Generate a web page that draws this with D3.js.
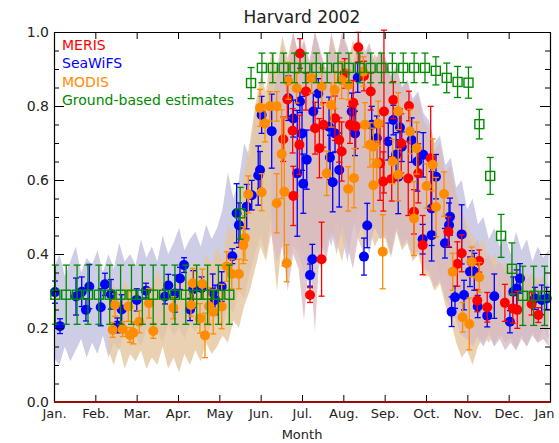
<!DOCTYPE html>
<html>
<head>
<meta charset="utf-8">
<script src="https://cdn.jsdelivr.net/npm/d3@7"></script>
<style>
  body { margin: 0; background: #fff; }
  svg text { font-family: "DejaVu Sans", sans-serif; }
</style>
</head>
<body>
<svg id="chart" width="559" height="443"></svg>
<script>
// ---- Month axis ----
const monthLabels = ["Jan.", "Feb.", "Mar.", "Apr.", "May", "Jun.", "Jul.", "Aug.", "Sep.", "Oct.", "Nov.", "Dec.", "Jan"];
const yTickValues = [0, 0.2, 0.4, 0.6, 0.8, 1.0];

// ---- SeaWiFS retrievals (day of year, value, error) ----
const seawifsDay = [0.7,4.4,16.2,20.4,23.5,26,34.4,37.5,41.9,46.6,49.8,60.9,67.7,81.7,84.1,89,92.7,95.7,100.1,102.5,108.6,116.8,118.5,123.4,131.2,134.4,136.1,141.8,145.5,150.3,151.6,152.8,160.2,172.4,176.1,179,181,182.5,183.4,186,188.4,190.1,190.8,194.5,202.4,203.1,205.1,206.8,209.9,219.1,221.5,223.5,228.1,230.5,233.8,237.5,246,249.7,251.7,253.3,254.6,255.9,263.2,267.3,271.3,271.7,277.9,277.9,281.1,287.7,290.7,291.4,292.6,295.1,300,301.7,306.1,307.4,309.3,311.8,318.8,324,335.5,338,340.5,342.9,353.9,358.9,362.5];
const seawifsValue = [0.297,0.205,0.285,0.298,0.249,0.312,0.256,0.318,0.291,0.207,0.250,0.276,0.301,0.285,0.315,0.293,0.334,0.370,0.250,0.305,0.308,0.296,0.276,0.312,0.394,0.510,0.478,0.528,0.559,0.612,0.627,0.776,0.732,0.821,0.766,0.618,0.812,0.726,0.590,0.655,0.343,0.386,0.785,0.834,0.744,0.661,0.594,0.726,0.627,0.785,0.726,0.877,0.393,0.477,0.749,0.713,0.704,0.762,0.668,0.609,0.742,0.690,0.708,0.650,0.440,0.668,0.523,0.451,0.609,0.429,0.478,0.501,0.244,0.283,0.453,0.289,0.352,0.379,0.352,0.258,0.233,0.286,0.217,0.298,0.307,0.334,0.280,0.276,0.280];
const seawifsError = [0.03,0.02,0.05,0.04,0.03,0.06,0.05,0.03,0.04,0.02,0.04,0.03,0.02,0.02,0.03,0.05,0.03,0.02,0.03,0.05,0.03,0.05,0.04,0.04,0.02,0.08,0.06,0.06,0.04,0.08,0.05,0.05,0.10,0.06,0.05,0.17,0.03,0.10,0.08,0.08,0.03,0.04,0.05,0.04,0.08,0.06,0.08,0.05,0.10,0.05,0.06,0.04,0.05,0.06,0.05,0.06,0.05,0.04,0.06,0.10,0.05,0.04,0.06,0.08,0.04,0.06,0.10,0.07,0.06,0.04,0.06,0.05,0.04,0.03,0.08,0.04,0.04,0.03,0.05,0.03,0.03,0.06,0.03,0.04,0.05,0.04,0.03,0.04,0.03];

// ---- MERIS retrievals ----
const merisDay = [168.7,171.7,175.6,176.1,180.6,181,185.4,188.4,192.1,195.3,196.9,198.2,206.8,209.9,211.7,213.9,217.8,220.2,222,223.9,228.1,233.1,239.9,242.3,242.8,248.5,249.7,255.5,260.7,261.2,264.9,268.1,271.3,277.2,290.2,296.8,300,311.5,312.9,318.8,331.8,337.6,340.9,351.5,356.4];
const merisValue = [0.710,0.818,0.733,0.557,0.695,0.942,0.839,0.289,0.740,0.686,0.386,0.749,0.767,0.708,0.677,0.888,0.749,0.809,0.745,0.959,0.881,0.839,0.645,0.596,0.785,0.603,0.816,0.699,0.604,0.800,0.514,0.618,0.424,0.659,0.460,0.373,0.402,0.274,0.381,0.256,0.268,0.253,0.249,0.265,0.235];
const merisError = [0.06,0.05,0.06,0.08,0.08,0.04,0.05,0.02,0.07,0.08,0.10,0.06,0.06,0.06,0.08,0.04,0.05,0.06,0.06,0.04,0.04,0.05,0.10,0.08,0.22,0.06,0.05,0.08,0.10,0.04,0.06,0.08,0.08,0.14,0.04,0.06,0.05,0.03,0.03,0.04,0.05,0.04,0.05,0.03,0.02];

// ---- MODIS retrievals ----
const modisDay = [43.2,44.9,50.6,54.7,55.9,58.4,62.8,69.9,73.1,87.8,100.8,102.1,107.4,109.1,111.1,114.1,117.2,123.4,127.1,130.8,136.1,139.3,140.5,143,151.6,152.8,155.3,158.9,163.9,163.9,167.5,169.5,171.2,172.4,178.6,189.6,197,200.7,204,206.5,211.7,216.5,216.5,220.8,227.6,228.8,232.5,235,235,237.5,238.6,241.9,249.2,253.3,253.3,262,264.9,266.9,274.2,278.7,281.1,287,293.4,300.7,305.6,307.4,312.9];
const modisValue = [0.195,0.262,0.197,0.258,0.181,0.187,0.217,0.267,0.192,0.255,0.262,0.321,0.226,0.319,0.180,0.259,0.244,0.258,0.366,0.346,0.346,0.424,0.443,0.561,0.795,0.567,0.753,0.799,0.799,0.537,0.670,0.568,0.375,0.868,0.848,0.875,0.853,0.618,0.803,0.843,0.870,0.857,0.576,0.605,0.893,0.749,0.695,0.586,0.690,0.645,0.753,0.406,0.650,0.614,0.786,0.731,0.496,0.686,0.584,0.641,0.527,0.562,0.352,0.229,0.211,0.379,0.337];
const modisError = [0.02,0.03,0.02,0.04,0.02,0.03,0.03,0.04,0.02,0.03,0.03,0.04,0.04,0.04,0.06,0.05,0.06,0.06,0.04,0.04,0.04,0.05,0.06,0.05,0.05,0.05,0.05,0.04,0.04,0.08,0.12,0.20,0.05,0.05,0.04,0.04,0.05,0.06,0.06,0.05,0.05,0.04,0.06,0.08,0.04,0.06,0.06,0.07,0.05,0.06,0.06,0.10,0.06,0.07,0.05,0.06,0.10,0.07,0.06,0.07,0.08,0.06,0.05,0.04,0.07,0.04,0.04];

// ---- Ground-based 8-day estimates ----
const groundValue = [0.29,0.29,0.29,0.29,0.29,0.29,0.29,0.29,0.29,0.29,0.29,0.29,0.29,0.29,0.29,0.29,0.29,0.51,0.862,0.903,0.903,0.903,0.903,0.903,0.903,0.903,0.903,0.903,0.903,0.903,0.903,0.903,0.903,0.903,0.903,0.895,0.876,0.865,0.863,0.751,0.611,0.449,0.360,0.287,0.287,0.287];
const groundError = [0.08,0.08,0.08,0.08,0.08,0.08,0.08,0.08,0.08,0.08,0.08,0.08,0.08,0.08,0.08,0.08,0.08,0.07,0.042,0.04,0.04,0.04,0.04,0.04,0.04,0.04,0.04,0.04,0.04,0.04,0.04,0.04,0.04,0.04,0.04,0.038,0.04,0.042,0.042,0.04,0.05,0.058,0.07,0.08,0.08,0.08];

// ---- Pixel spread envelopes, sampled every 4 days ----
const seawifsBandLo = [0.12,0.10,0.15,0.11,0.14,0.17,0.12,0.16, 0.13,0.18,0.12,0.16,0.14,0.19,0.15, 0.18,0.15,0.20,0.17,0.19,0.16,0.21,0.18,0.20,0.17,0.21,0.19,0.22,0.18,0.21, 0.23,0.20,0.26,0.24,0.30,0.28,0.35,0.40, 0.45,0.40,0.50,0.44,0.48,0.38,0.46,0.42, 0.40,0.30,0.45,0.36,0.48,0.42,0.50,0.44,0.38,0.47,0.52,0.45,0.40,0.48,0.44, 0.46,0.40,0.48,0.43,0.45,0.40,0.42,0.38, 0.36,0.40,0.33,0.36,0.30,0.32,0.26, 0.24,0.20,0.17,0.15,0.18,0.15,0.19,0.16, 0.17,0.14,0.18,0.15,0.19,0.16,0.20,0.17];
const seawifsBandHi = [0.36,0.40,0.34,0.38,0.42,0.35,0.39,0.37, 0.41,0.35,0.40,0.36,0.43,0.38,0.40, 0.37,0.44,0.39,0.42,0.38,0.45,0.40,0.43,0.47,0.41,0.44,0.46,0.42,0.48,0.44, 0.47,0.52,0.62,0.55,0.60,0.70,0.66,0.78, 0.85,0.80,0.92,0.88,0.97,0.90,0.99,0.93, 0.96,0.91,1.0,0.94,0.89,0.97,0.92,0.99,0.95,0.90,0.98,0.93,0.96,0.91,0.95, 0.92,0.88,0.90,0.85,0.87,0.82,0.84,0.78, 0.76,0.70,0.72,0.64,0.66,0.58,0.60, 0.52,0.55,0.48,0.50,0.44,0.47,0.42,0.45, 0.40,0.46,0.41,0.44,0.38,0.42,0.39,0.41];
const modisBandLo = [0.14,0.10,0.15,0.09,0.13, 0.11,0.14,0.09,0.12,0.10,0.15,0.09,0.12,0.08,0.13,0.10,0.14,0.11,0.16,0.13, 0.15,0.18,0.16,0.22,0.20,0.26,0.30,0.36, 0.42,0.38,0.46,0.30,0.44,0.36,0.42,0.40, 0.35,0.42,0.38,0.46,0.40,0.48,0.43,0.38,0.46,0.50,0.44,0.40,0.47,0.42,0.45, 0.44,0.39,0.46,0.41,0.43,0.38,0.40,0.34, 0.34,0.30,0.32,0.26,0.22,0.16,0.12, 0.14,0.10,0.15,0.18,0.16,0.19,0.17,0.20, 0.18,0.21,0.19,0.22,0.20,0.23,0.21,0.22];
const modisBandHi = [0.28,0.32,0.27,0.33,0.30, 0.31,0.28,0.34,0.30,0.36,0.32,0.35,0.30,0.37,0.33,0.36,0.38,0.34,0.40,0.37, 0.42,0.38,0.48,0.45,0.55,0.62,0.70,0.80, 0.88,0.84,0.95,0.90,0.99,0.93,1.0,0.92, 0.97,0.90,0.99,0.93,0.88,1.0,0.94,0.97,0.91,0.98,0.93,0.96,0.90,0.94,0.92, 0.90,0.86,0.88,0.82,0.85,0.79,0.80,0.74, 0.72,0.66,0.68,0.60,0.62,0.55,0.52, 0.48,0.45,0.42,0.44,0.38,0.40,0.36,0.38, 0.34,0.37,0.33,0.35,0.31,0.34,0.30,0.32];
const merisBandLo = [0.45,0.38,0.42,0.30,0.40,0.36, 0.22,0.40,0.19,0.44,0.38,0.46,0.40,0.48,0.42,0.36,0.45,0.50,0.43,0.47,0.44, 0.45,0.40,0.47,0.42,0.44,0.39,0.41,0.36, 0.35,0.31,0.33,0.28,0.25,0.22,0.18, 0.17,0.15,0.18,0.16,0.19,0.15,0.17,0.14, 0.16,0.14,0.17,0.15,0.18,0.16,0.17,0.15];
const merisBandHi = [0.80,0.88,0.95,0.90,1.0,0.94, 0.98,0.92,1.0,0.95,0.90,0.99,0.93,1.0,0.96,0.91,0.99,0.94,0.97,0.92,0.95, 0.93,0.88,0.91,0.85,0.87,0.81,0.83,0.76, 0.74,0.68,0.70,0.62,0.64,0.56,0.52, 0.46,0.42,0.44,0.38,0.40,0.36,0.38,0.35, 0.37,0.34,0.36,0.33,0.35,0.32,0.34,0.31];

// ---- Scales ----
const svg = d3.select("#chart");
const x = d3.scaleLinear().domain([0, 365]).range([54, 550]);
const y = d3.scaleLinear().domain([0, 1]).range([402, 32]);
const monthTicks = monthLabels.map((_, i) => i * 365 / 12);

const colors = { meris: "#ff0000", seawifs: "#0000ff", modis: "#ff8c00", ground: "#008a00" };

const plot = svg.append("g");
plot.append("clipPath").attr("id", "clip")
  .append("rect").attr("x", 54).attr("y", 32).attr("width", 496).attr("height", 370);

// ---- Envelope bands ----
function band(lo, hi, startDay, fill, opacity) {
  const days = lo.map((_, i) => startDay + 4 * i);
  const area = d3.area()
    .x((d, i) => x(days[i]))
    .y0((d, i) => y(lo[i]))
    .y1((d, i) => y(hi[i]));
  plot.append("path")
    .datum(lo)
    .attr("clip-path", "url(#clip)")
    .attr("d", area)
    .attr("fill", fill)
    .attr("fill-opacity", opacity);
}
band(seawifsBandLo, seawifsBandHi, 0, "#c0c0e0", 0.8);
band(modisBandLo, modisBandHi, 40, "#e5c59f", 0.8);
band(merisBandLo, merisBandHi, 160, "#d8bac1", 0.8);

// ---- Error bars + markers ----
function series(days, vals, errs, color) {
  const g = plot.append("g");
  const rows = days.map((d, i) => ({ d, v: vals[i], e: errs[i] }));
  g.selectAll("line.bar").data(rows).join("line")
    .attr("class", "bar")
    .attr("x1", r => x(r.d)).attr("x2", r => x(r.d))
    .attr("y1", r => y(r.v - r.e)).attr("y2", r => y(r.v + r.e))
    .attr("stroke", color).attr("stroke-width", 1.3);
  ["lo", "hi"].forEach(k => {
    g.selectAll("line.cap" + k).data(rows).join("line")
      .attr("class", "cap" + k)
      .attr("x1", r => x(r.d) - 3).attr("x2", r => x(r.d) + 3)
      .attr("y1", r => y(k === "lo" ? r.v - r.e : r.v + r.e))
      .attr("y2", r => y(k === "lo" ? r.v - r.e : r.v + r.e))
      .attr("stroke", color).attr("stroke-width", 1.3);
  });
  g.selectAll("circle").data(rows).join("circle")
    .attr("cx", r => x(r.d)).attr("cy", r => y(r.v)).attr("r", 5)
    .attr("fill", color);
}
series(seawifsDay, seawifsValue, seawifsError, colors.seawifs);
series(merisDay, merisValue, merisError, colors.meris);
series(modisDay, modisValue, modisError, colors.modis);

// ---- Ground-based estimates: open squares with error bars ----
const ground = groundValue.map((v, k) => ({ d: 1 + 8 * k, v, e: groundError[k] }));
const gg = plot.append("g").attr("stroke", colors.ground).attr("stroke-width", 1.3).attr("fill", "none");
gg.selectAll("line.bar").data(ground).join("line").attr("class", "bar")
  .attr("x1", r => x(r.d)).attr("x2", r => x(r.d))
  .attr("y1", r => y(r.v - r.e)).attr("y2", r => y(r.v + r.e));
gg.selectAll("line.capLo").data(ground).join("line").attr("class", "capLo")
  .attr("x1", r => x(r.d) - 3.5).attr("x2", r => x(r.d) + 3.5)
  .attr("y1", r => y(r.v - r.e)).attr("y2", r => y(r.v - r.e));
gg.selectAll("line.capHi").data(ground).join("line").attr("class", "capHi")
  .attr("x1", r => x(r.d) - 3.5).attr("x2", r => x(r.d) + 3.5)
  .attr("y1", r => y(r.v + r.e)).attr("y2", r => y(r.v + r.e));
gg.selectAll("rect").data(ground).join("rect")
  .attr("x", r => x(r.d) - 4.5).attr("y", r => y(r.v) - 4.5)
  .attr("width", 9).attr("height", 9).attr("stroke-width", 1.4);

// ---- Axes ----
function styleAxis(g) {
  g.selectAll("path.domain").attr("stroke", "#000").attr("stroke-width", 1.2);
  g.selectAll(".tick line").attr("stroke", "#000").attr("stroke-width", 1);
  g.selectAll("text").attr("font-family", "DejaVu Sans, sans-serif").attr("fill", "#222");
}
const minorY = d3.range(0.05, 1.0, 0.05).filter(v => Math.abs(v * 5 - Math.round(v * 5)) > 1e-6);

const axisLeftG = svg.append("g").attr("transform", "translate(54,0)")
  .call(d3.axisLeft(y).tickValues(yTickValues).tickSize(-10).tickSizeOuter(0).tickPadding(5).tickFormat(d3.format(".1f")));
axisLeftG.selectAll("text").attr("font-size", 14);
styleAxis(axisLeftG);
svg.append("g").attr("transform", "translate(54,0)")
  .call(d3.axisLeft(y).tickValues(minorY).tickSize(-5).tickFormat(""))
  .call(g => g.select("path.domain").remove()).call(styleAxis);

const axisRightG = svg.append("g").attr("transform", "translate(550,0)")
  .call(d3.axisRight(y).tickValues(yTickValues).tickSize(-10).tickSizeOuter(0).tickFormat(""));
styleAxis(axisRightG);
svg.append("g").attr("transform", "translate(550,0)")
  .call(d3.axisRight(y).tickValues(minorY).tickSize(-5).tickFormat(""))
  .call(g => g.select("path.domain").remove()).call(styleAxis);

const axisBottomG = svg.append("g").attr("transform", "translate(0,402)")
  .call(d3.axisBottom(x).tickValues(monthTicks).tickSize(-7).tickSizeOuter(0).tickPadding(7)
    .tickFormat((d, i) => monthLabels[i]));
axisBottomG.selectAll("text").attr("font-size", 13);
// the year-end label sits at the frame edge; nudge it inward
axisBottomG.selectAll(".tick text").filter((d, i) => i === monthLabels.length - 1).attr("dx", -6);
styleAxis(axisBottomG);

const axisTopG = svg.append("g").attr("transform", "translate(0,32)")
  .call(d3.axisTop(x).tickValues(monthTicks).tickSize(-7).tickSizeOuter(0).tickFormat(""));
styleAxis(axisTopG);

// zero line
svg.append("line").attr("x1", 54).attr("x2", 550).attr("y1", y(0)).attr("y2", y(0))
  .attr("stroke", "#9a0a0a").attr("stroke-width", 2);

// ---- Titles ----
svg.append("text").attr("x", 302).attr("y", 23).attr("text-anchor", "middle")
  .attr("font-size", 17).attr("fill", "#222").text("Harvard 2002");
svg.append("text").attr("x", 302).attr("y", 439).attr("text-anchor", "middle")
  .attr("font-size", 13).attr("fill", "#222").text("Month");

// ---- Legend ----
const legendItems = [["MERIS", colors.meris], ["SeaWiFS", colors.seawifs], ["MODIS", colors.modis], ["Ground-based estimates", colors.ground]];
svg.append("g").selectAll("text").data(legendItems).join("text")
  .attr("x", 62).attr("y", (d, i) => 49.5 + i * 18.6)
  .attr("font-size", 14).attr("fill", d => d[1]).text(d => d[0]);
</script>
</body>
</html>
